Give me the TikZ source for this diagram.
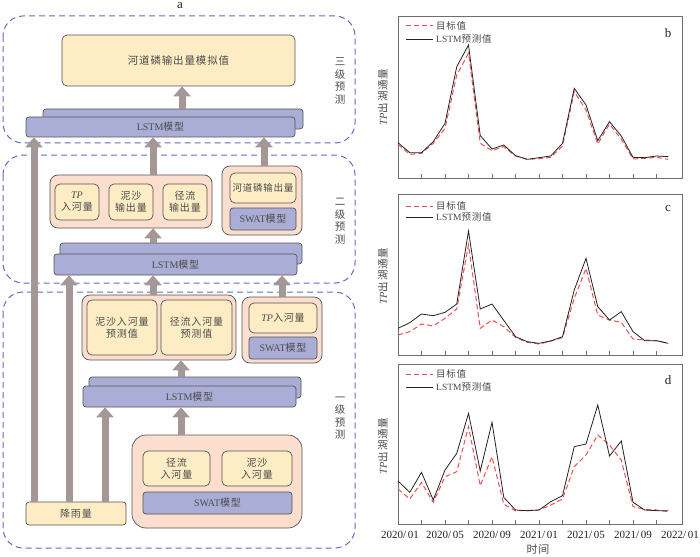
\documentclass[tikz,border=0pt]{standalone}
\usepackage{fontspec}
\setmainfont{Liberation Serif}
\newfontfamily\cjk[LetterSpace=8]{Noto Sans CJK SC}
\usetikzlibrary{arrows.meta,calc}
\definecolor{yel}{RGB}{253,236,196}
\definecolor{pnk}{RGB}{251,222,205}
\definecolor{lav}{RGB}{170,173,213}
\definecolor{dashc}{RGB}{100,106,198}
\definecolor{arr}{RGB}{163,152,150}
\definecolor{edge}{RGB}{85,85,85}
\definecolor{txt}{RGB}{75,75,75}
\definecolor{redl}{RGB}{238,80,80}
\definecolor{blkl}{RGB}{35,35,35}
\definecolor{axc}{RGB}{110,110,110}
\newcommand\zhs[1]{{\cjk #1}}
\begin{document}
\begin{tikzpicture}[x=1pt,y=-1pt,
  box/.style={draw=edge, line width=0.7pt, rounded corners=5pt, inner sep=0pt, text=txt, align=center, font=\fontsize{10}{12}\selectfont},
  ybox/.style={box, fill=yel},
  pbox/.style={box, fill=pnk, rounded corners=8pt},
  lbox/.style={box, fill=lav, rounded corners=3pt},
  level/.style={draw=dashc, line width=1pt, dash pattern=on 6pt off 4pt, rounded corners=20pt},
  bigarrow/.style={color=arr, line width=7pt, -{Triangle[width=17pt,length=10pt]}},
  lvtext/.style={text=txt, align=center, font=\fontsize{10.5}{12.5}\selectfont},
  axis/.style={draw=axc, line width=0.8pt},
  redd/.style={draw=redl, line width=1pt, dash pattern=on 5pt off 3pt},
  blks/.style={draw=blkl, line width=0.8pt},
  legtext/.style={anchor=west, inner sep=0pt, text=txt, font=\fontsize{9.5}{11}\selectfont},
  ticklab/.style={text=blkl, font=\fontsize{11}{12}\selectfont},
  ylab/.style={rotate=90, text=txt, font=\fontsize{10.5}{12}\selectfont},
  panlab/.style={text=blkl, font=\fontsize{13}{14}\selectfont}
]
\useasboundingbox (0,0) rectangle (700,556);
\fill[white] (0,0) rectangle (700,556);

% ---------- left panel ----------
\node[panlab, inner sep=0pt] (pa) at (180,6) {a};
\draw[level] (3,16) rectangle (355,143);
\draw[level] (3,155) rectangle (355,283);
\draw[level] (3,292) rectangle (355,548);
\node[lvtext] (lv3) at (340,81) {\zhs{三}\\\zhs{级}\\\zhs{预}\\\zhs{测}};
\node[lvtext] (lv2) at (340,221) {\zhs{二}\\\zhs{级}\\\zhs{预}\\\zhs{测}};
\node[lvtext] (lv1) at (340,418) {\zhs{一}\\\zhs{级}\\\zhs{预}\\\zhs{测}};

% level 3
\node[ybox, minimum width=233, minimum height=51, font=\fontsize{10.5}{12}\selectfont] (res) at (178.5,60.5) {\zhs{河道磷输出量模拟值}};
\node[lbox, minimum width=260, minimum height=20] (l3b) at (173,119) {};
\node[lbox, minimum width=269, minimum height=20] (l3f) at (160.5,127) {LSTM\zhs{模型}};

% level 2
\node[pbox, minimum width=162, minimum height=53] (g1) at (131,201.5) {};
\node[ybox, minimum width=44, minimum height=36] (tp2) at (77,202) {\textit{TP}\\\zhs{入河量}};
\node[ybox, minimum width=44, minimum height=36] (ns2) at (131,202) {\zhs{泥沙}\\\zhs{输出量}};
\node[ybox, minimum width=44, minimum height=36] (jl2) at (185,202) {\zhs{径流}\\\zhs{输出量}};
\node[pbox, minimum width=80, minimum height=69] (g2) at (262,200.5) {};
\node[ybox, minimum width=66, minimum height=30, font=\fontsize{9.5}{11}\selectfont] (hd2) at (263,188) {\zhs{河道磷输出量}};
\node[lbox, minimum width=66, minimum height=22] (sw2) at (263,219) {SWAT\zhs{模型}};
\node[lbox, minimum width=242, minimum height=21] (l2b) at (181,253.5) {};
\node[lbox, minimum width=243, minimum height=21] (l2f) at (175.5,264.5) {LSTM\zhs{模型}};

% level 1
\node[pbox, minimum width=154, minimum height=65] (g3) at (159,327.5) {};
\node[ybox, minimum width=70, minimum height=55] (ns1) at (122,327.5) {\zhs{泥沙入河量}\\\zhs{预测值}};
\node[ybox, minimum width=71, minimum height=55] (jl1) at (196.5,327.5) {\zhs{径流入河量}\\\zhs{预测值}};
\node[pbox, minimum width=80, minimum height=66] (g4) at (282,330) {};
\node[ybox, minimum width=68, minimum height=30] (tp1) at (283,318) {\textit{TP}\zhs{入河量}};
\node[lbox, minimum width=68, minimum height=22] (sw1) at (283,348) {SWAT\zhs{模型}};
\node[lbox, minimum width=212, minimum height=21] (l1b) at (195,387.5) {};
\node[lbox, minimum width=213, minimum height=21] (l1f) at (189.5,396.5) {LSTM\zhs{模型}};
\node[ybox, minimum width=100, minimum height=23, rounded corners=3pt] (rain) at (76,513.5) {\zhs{降雨量}};
\node[pbox, minimum width=170, minimum height=93, rounded corners=14pt] (g0) at (217,481.5) {};
\node[ybox, minimum width=67, minimum height=35] (jl0) at (176.5,468.5) {\zhs{径流}\\\zhs{入河量}};
\node[ybox, minimum width=70, minimum height=35] (ns0) at (257,468.5) {\zhs{泥沙}\\\zhs{入河量}};
\node[lbox, minimum width=149, minimum height=22] (sw0) at (217.5,503) {SWAT\zhs{模型}};

% arrow columns
\coordinate (xa) at (182,0);
\coordinate (xb) at (153,0);
\coordinate (xc) at (264,0);
\coordinate (xd) at (282,0);
\coordinate (xe) at (181,0);
\coordinate (xr1) at (34,0);
\coordinate (xr2) at (69,0);
\coordinate (xr3) at (105,0);

\draw[bigarrow] (l3b.north -| xa) -- (res.south -| xa);
\draw[bigarrow] (g1.north -| xb) -- (l3f.south -| xb);
\draw[bigarrow] (g2.north -| xc) -- (l3f.south -| xc);
\draw[bigarrow] (l2b.north -| xb) -- (g1.south -| xb);
\draw[bigarrow] (g3.north -| xb) -- (l2f.south -| xb);
\draw[bigarrow] (g4.north -| xd) -- (l2f.south -| xd);
\draw[bigarrow] (l1b.north -| xe) -- (g3.south -| xe);
\draw[bigarrow] (g0.north -| xe) -- (l1f.south -| xe);
\draw[bigarrow] (rain.north -| xr3) -- (l1f.south -| xr3);
\draw[bigarrow] (rain.north -| xr2) -- (l2f.south -| xr2);
\draw[bigarrow] (rain.north -| xr1) -- (l3f.south -| xr1);

% ---------- right panel: chart b ----------
\draw[axis] (398,16) rectangle (682,178);
\foreach \k in {1,...,11} \draw[axis] ({398+\k*23.5},178) -- ++(0,-4);
\draw[redd] (406,25.5) -- (433,25.5);
\node[legtext] (lgb1) at (436,25.5) {\zhs{目标值}};
\draw[blks] (406,39) -- (433,39);
\node[legtext] (lgb2) at (436,39) {LSTM\zhs{预测值}};
\node[panlab] (pb) at (668,33) {b};
\node[ylab] (yb) at (383,97) {\textit{TP}\zhs{出湖通量}};
\draw[redd] (398,{433/3}) \foreach \v [count=\i from 1] in {463,460,430,385,225,160,430,452,440,468,478,476,472,438,275,330,432,372,418,477,475,472,478} { -- ({398+\i*11.75},{\v/3}) };
\draw[blks] (398,{428/3}) \foreach \v [count=\i from 1] in {458,458,425,370,200,135,407,447,435,467,478,473,468,430,265,315,422,365,408,472,473,468,470} { -- ({398+\i*11.75},{\v/3}) };

% ---------- chart c ----------
\draw[axis] (398,194) rectangle (682,355);
\foreach \k in {1,...,11} \draw[axis] ({398+\k*23.5},355) -- ++(0,-4);
\draw[redd] (406,206) -- (433,206);
\node[legtext] (lgc1) at (436,206) {\zhs{目标值}};
\draw[blks] (406,217) -- (433,217);
\node[legtext] (lgc2) at (436,217) {LSTM\zhs{预测值}};
\node[panlab] (pc) at (668,208) {c};
\node[ylab] (yc) at (383,276) {\textit{TP}\zhs{出湖通量}};
\draw[redd] (398,{185+450/3}) \foreach \v [count=\i from 1] in {440,417,423,400,372,180,430,405,425,457,472,477,468,458,340,250,390,405,412,462,465,467,475} { -- ({398+\i*11.75},{185+\v/3}) };
\draw[blks] (398,{185+430/3}) \foreach \v [count=\i from 1] in {413,387,392,382,357,138,372,357,406,455,470,475,468,455,315,220,365,405,380,440,467,467,475} { -- ({398+\i*11.75},{185+\v/3}) };

% ---------- chart d ----------
\draw[axis] (398,364) rectangle (682,524);
\foreach \k in {1,...,11} \draw[axis] ({398+\k*23.5},524) -- ++(0,-4);
\draw[redd] (406,374) -- (433,374);
\node[legtext] (lgd1) at (436,374) {\zhs{目标值}};
\draw[blks] (406,387) -- (433,387);
\node[legtext] (lgd2) at (436,387) {LSTM\zhs{预测值}};
\node[panlab] (pd) at (668,380) {d};
\node[ylab] (yd) at (383,446) {\textit{TP}\zhs{出湖通量}};
\draw[redd] (398,{365+372/3}) \foreach \v [count=\i from 1] in {402,352,412,335,320,185,362,275,418,437,437,435,420,402,305,270,210,240,285,425,433,435,440} { -- ({398+\i*11.75},{365+\v/3}) };
\draw[blks] (398,{365+348/3}) \foreach \v [count=\i from 1] in {382,322,405,315,265,145,318,172,397,435,437,435,410,392,245,237,120,273,228,412,435,437,437} { -- ({398+\i*11.75},{365+\v/3}) };

\node[ticklab] (t1) at (400,535) {2020/\,01};
\node[ticklab] (t2) at (445,535) {2020/\,05};
\node[ticklab] (t3) at (492,535) {2020/\,09};
\node[ticklab] (t4) at (539,535) {2021/\,01};
\node[ticklab] (t5) at (586,535) {2021/\,05};
\node[ticklab] (t6) at (633,535) {2021/\,09};
\node[ticklab] (t7) at (680,535) {2022/\,01};
\node[ticklab, text=txt] (tx) at (538,549) {\zhs{时间}};
\end{tikzpicture}
\end{document}
